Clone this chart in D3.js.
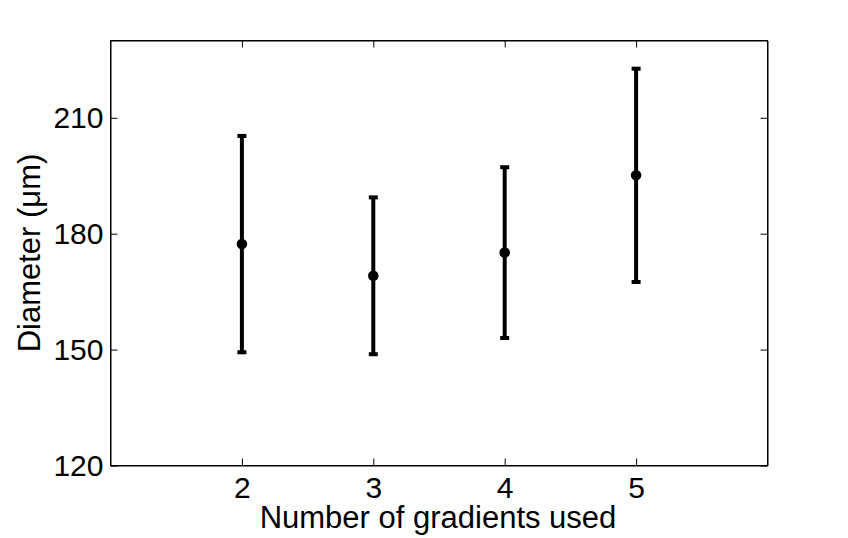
<!DOCTYPE html>
<html>
<head>
<meta charset="utf-8">
<script src="https://cdn.jsdelivr.net/npm/d3@7/dist/d3.min.js"></script>
<style>
  html, body { margin: 0; padding: 0; background: #fff; }
  svg { display: block; }
  text { font-family: "Liberation Sans", Arial, Helvetica, sans-serif; fill: #000; }
  .tick text { font-size: 30px; }
</style>
</head>
<body>
<svg id="chart" width="848" height="538"></svg>
<script>
const gradients = [2, 3, 4, 5];
const meanDiameter = [177.3, 169.1, 175.1, 195.1];
const errorDiameter = [28.0, 20.3, 22.1, 27.6];
const xTicks = [2, 3, 4, 5];
const yTicks = [120, 150, 180, 210];
const xLabel = "Number of gradients used";
const yLabel = "Diameter (\u03bcm)";

const svg = d3.select("#chart");
const W = 848, H = 538;
const plot = { left: 110.5, right: 767.5, top: 40.5, bottom: 465.5 };

const x = d3.scaleLinear().domain([1, 6]).range([plot.left, plot.right]);
const y = d3.scaleLinear().domain([120, 230]).range([plot.bottom, plot.top]);

svg.append("rect").attr("width", W).attr("height", H).attr("fill", "#fff");

// Axes (MATLAB style: box, inward ticks on all sides)
const tickLen = 7;
const axB = svg.append("g").attr("transform", `translate(0,${plot.bottom})`)
  .call(d3.axisBottom(x).tickValues(xTicks).tickSizeInner(-tickLen).tickSizeOuter(0).tickPadding(12).tickFormat(d3.format("d")));
const axT = svg.append("g").attr("transform", `translate(0,${plot.top})`)
  .call(d3.axisTop(x).tickValues(xTicks).tickSizeInner(-tickLen).tickSizeOuter(0).tickFormat(""));
const axL = svg.append("g").attr("transform", `translate(${plot.left},0)`)
  .call(d3.axisLeft(y).tickValues(yTicks).tickSizeInner(-tickLen).tickSizeOuter(0).tickPadding(8).tickFormat(d3.format("d")));
const axR = svg.append("g").attr("transform", `translate(${plot.right},0)`)
  .call(d3.axisRight(y).tickValues(yTicks).tickSizeInner(-tickLen).tickSizeOuter(0).tickFormat(""));

[axB, axT, axL, axR].forEach(g => {
  g.attr("font-size", null).attr("font-family", null);
  g.selectAll("path.domain").attr("stroke", "#000").attr("stroke-width", 1);
  g.selectAll(".tick line").attr("stroke", "#000").attr("stroke-width", 1);
});
axB.selectAll(".tick text").style("font-size", "30px").attr("y", 11).attr("dy", "0.71em");
axL.selectAll(".tick text").style("font-size", "30px").attr("x", -7);

svg.append("rect")
  .attr("x", plot.left).attr("y", plot.top)
  .attr("width", plot.right - plot.left).attr("height", plot.bottom - plot.top)
  .attr("fill", "none").attr("stroke", "#000").attr("stroke-width", 1);

// Axis labels
svg.append("text")
  .attr("x", (plot.left + plot.right) / 2 - 1)
  .attr("y", 528)
  .attr("text-anchor", "middle")
  .style("font-size", "31px")
  .text(xLabel);

svg.append("text")
  .attr("transform", `translate(40,${(plot.top + plot.bottom) / 2}) rotate(-90)`)
  .attr("text-anchor", "middle")
  .style("font-size", "31px")
  .text(yLabel);

// Error bars
const data = gradients.map((g, i) => ({ g, m: meanDiameter[i], e: errorDiameter[i] }));
const capHalf = 4.5;
const eb = svg.append("g");
eb.selectAll("line.v").data(data).join("line")
  .attr("x1", d => x(d.g)).attr("x2", d => x(d.g))
  .attr("y1", d => y(d.m + d.e)).attr("y2", d => y(d.m - d.e))
  .attr("stroke", "#000").attr("stroke-width", 4);
eb.selectAll("line.ct").data(data).join("line")
  .attr("x1", d => x(d.g) - capHalf).attr("x2", d => x(d.g) + capHalf)
  .attr("y1", d => y(d.m + d.e)).attr("y2", d => y(d.m + d.e))
  .attr("stroke", "#000").attr("stroke-width", 4);
eb.selectAll("line.cb").data(data).join("line")
  .attr("x1", d => x(d.g) - capHalf).attr("x2", d => x(d.g) + capHalf)
  .attr("y1", d => y(d.m - d.e)).attr("y2", d => y(d.m - d.e))
  .attr("stroke", "#000").attr("stroke-width", 4);
eb.selectAll("circle").data(data).join("circle")
  .attr("cx", d => x(d.g)).attr("cy", d => y(d.m)).attr("r", 5.3)
  .attr("fill", "#000");
</script>
</body>
</html>
